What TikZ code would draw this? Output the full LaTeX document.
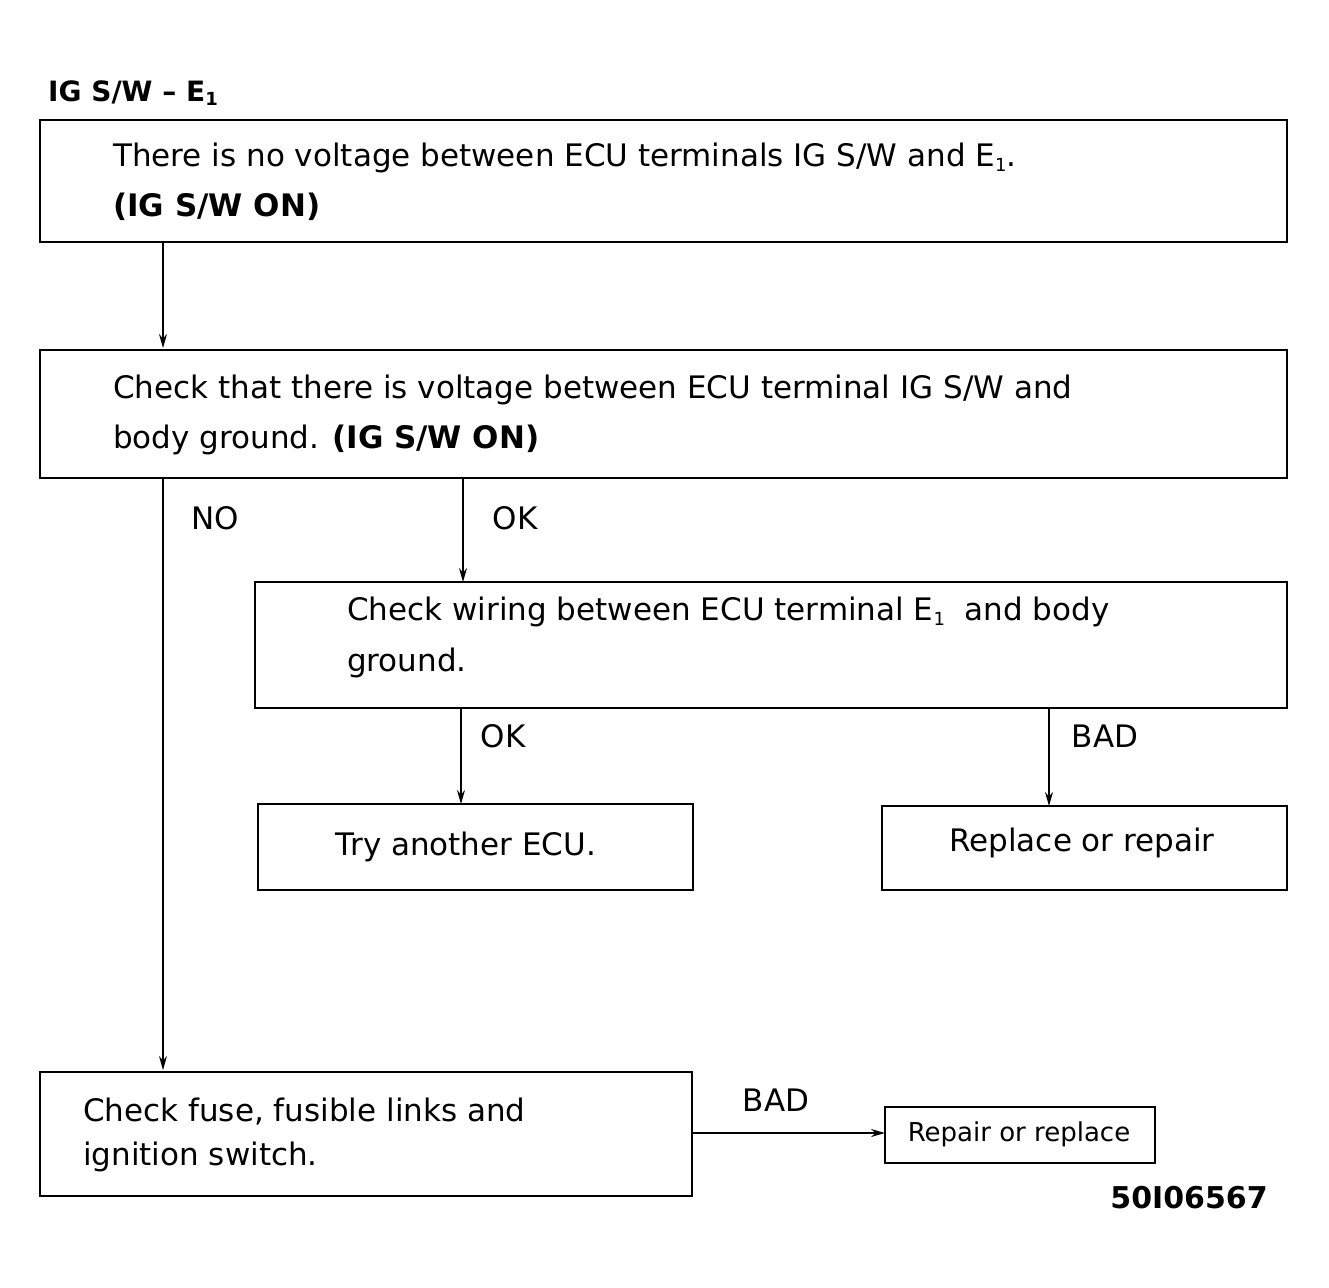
\documentclass[tikz,border=0pt]{standalone}
\usepackage{fontspec}
\setmainfont{DejaVu Sans}
\usetikzlibrary{arrows.meta}
\newcommand{\lowone}{\raisebox{-0.3ex}{\fontsize{18}{18}\selectfont 1}}
\begin{document}
\begin{tikzpicture}[x=1pt,y=-1pt,
  box/.style={draw,line width=2pt},
  txt/.style={anchor=west,font=\fontsize{31}{38}\selectfont,inner sep=0},
  lab/.style={anchor=center,font=\fontsize{31}{38}\selectfont,inner sep=0},
  arr/.style={line width=1.3pt,-{Stealth[length=14pt,width=8pt]}}]
\useasboundingbox (0,0) rectangle (1329,1287);
\node[anchor=west,inner sep=0,font=\fontsize{28}{34}\selectfont\bfseries] (title) at (48,93) {IG S/W -- E\lowone};
\draw[box] (40,120) rectangle (1287,242);
\node[txt] (t1a) at (113,158) {There is no voltage between ECU terminals IG S/W and E\lowone.};
\node[txt,font=\fontsize{31}{38}\selectfont\bfseries] (t1b) at (113,207) {(IG S/W ON)};
\coordinate (a1) at (163,242); \coordinate (a2) at (163,348);
\draw[arr] (a1) -- (a2);
\draw[box] (40,350) rectangle (1287,478);
\node[txt] (t2a) at (113,390) {Check that there is voltage between ECU terminal IG S/W and};
\node[txt] (t2b) at (113,440) {body ground. \textbf{(IG S/W ON)}};
\coordinate (n1) at (163,478); \coordinate (n2) at (163,1070);
\draw[arr] (n1) -- (n2);
\node[lab] (no) at (215,518) {NO};
\coordinate (o1) at (463,478); \coordinate (o2) at (463,582);
\draw[arr] (o1) -- (o2);
\node[lab] (ok1) at (515,518) {OK};
\draw[box] (255,582) rectangle (1287,708);
\node[txt] (t3a) at (347,612) {Check wiring between ECU terminal E\lowone\ \ and body};
\node[txt] (t3b) at (347,663) {ground.};
\coordinate (p1) at (461,708); \coordinate (p2) at (461,804);
\draw[arr] (p1) -- (p2);
\node[lab] (ok2) at (503,736) {OK};
\coordinate (q1) at (1049,708); \coordinate (q2) at (1049,806);
\draw[arr] (q1) -- (q2);
\node[lab] (bad1) at (1105,736) {BAD};
\draw[box] (258,804) rectangle (693,890);
\node[lab] (t4) at (466,847) {Try another ECU.};
\draw[box] (882,806) rectangle (1287,890);
\node[lab] (t5) at (1082,843) {Replace or repair};
\draw[box] (40,1072) rectangle (692,1196);
\node[txt] (t6a) at (83,1112) {Check fuse, fusible links and};
\node[txt] (t6b) at (83,1157) {ignition switch.};
\coordinate (r1) at (692,1133); \coordinate (r2) at (885,1133);
\draw[arr] (r1) -- (r2);
\node[lab] (bad2) at (776,1100) {BAD};
\draw[line width=1.8pt] (885,1107) rectangle (1155,1163);
\node[lab,font=\fontsize{26}{32}\selectfont] (t7) at (1019,1134) {Repair or replace};
\node[lab,font=\fontsize{30}{36}\selectfont\bfseries] (code) at (1189,1198) {50I06567};
\end{tikzpicture}
\end{document}
